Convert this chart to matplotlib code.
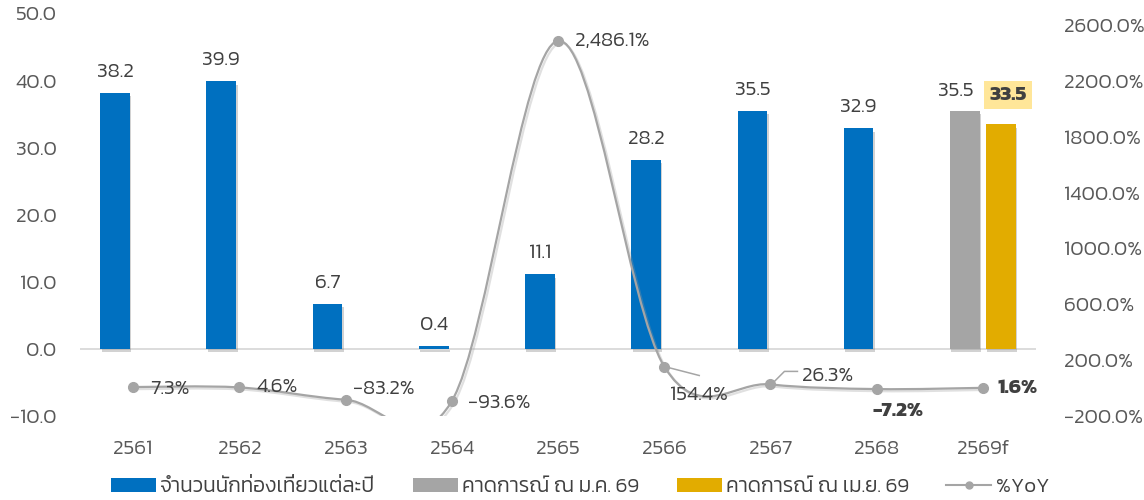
import matplotlib
matplotlib.use("Agg")
import matplotlib.pyplot as plt
import matplotlib.patheffects as pe
from matplotlib.path import Path
from matplotlib.patches import PathPatch, Patch
from matplotlib.lines import Line2D
import numpy as np

plt.rcParams["font.family"] = ["Kanit", "DejaVu Sans"]
plt.rcParams["font.weight"] = 300

# ---- data -------------------------------------------------------------
years = ["2561", "2562", "2563", "2564", "2565", "2566", "2567", "2568", "2569f"]
tourists = [38.2, 39.9, 6.7, 0.4, 11.1, 28.2, 35.5, 32.9]          # actual, million
forecast_jan = 35.5                                                  # forecast as of Jan 69
forecast_apr = 33.5                                                  # forecast as of Apr 69
yoy = [7.3, 4.6, -83.2, -93.6, 2486.1, 154.4, 26.3, -7.2, 1.6]      # %YoY

left_ticks = [-10, 0, 10, 20, 30, 40, 50]
right_ticks = [-200, 200, 600, 1000, 1400, 1800, 2200, 2600]

legend_labels = ["จำนวนนักท่องเที่ยวแต่ละปี", "คาดการณ์ ณ ม.ค. 69",
                 "คาดการณ์ ณ เม.ย. 69", "%YoY"]

# ---- style ------------------------------------------------------------
BLUE = "#0070C0"
GRAY = "#A5A5A5"
GOLD = "#E2AC00"
TXT = "#404040"
TICK = "#595959"
FS = 15

W, H = 1144, 500
fig = plt.figure(figsize=(W / 100, H / 100), dpi=100)
ax = fig.add_axes([80 / W, 1 - 416 / H, 956 / W, 402.5 / H])
ax2 = ax.twinx()

ax.set_xlim(-0.5, len(years) - 0.5)
ax.set_ylim(-10, 50)
ax2.set_ylim(-200, 2682)

for a in (ax, ax2):
    for s in a.spines.values():
        s.set_visible(False)
    a.tick_params(length=0)

ax.set_yticks(left_ticks, [f"{v:.1f}".replace("-", "\u2212") for v in left_ticks])
ax2.set_yticks(right_ticks, [f"{v:.1f}%".replace("-", "\u2212") for v in right_ticks])
ax.set_xticks(range(len(years)), years)
ax.tick_params(axis="y", labelsize=FS, labelcolor=TICK, pad=17)
ax2.tick_params(axis="y", labelsize=FS, labelcolor=TICK, pad=20)
ax.tick_params(axis="x", labelsize=FS, labelcolor=TICK, pad=17)

ax.axhline(0, color="#D9D9D9", lw=1.3, zorder=1)

# ---- bars -------------------------------------------------------------
bw = 0.28
off = 0.17
shadow = [pe.SimplePatchShadow(offset=(1, -2.5), shadow_rgbFace="#7f7f7f", alpha=0.35), pe.Normal()]

xa = np.arange(len(tourists))
bars = ax.bar(xa - off, tourists, width=bw, color=BLUE, zorder=2)
for b in bars:
    b.set_path_effects(shadow)
gbar = ax.bar([len(years) - 1 - off], [forecast_jan], width=bw, color=GRAY, zorder=2)
ybar = ax.bar([len(years) - 1 + off], [forecast_apr], width=bw, color=GOLD, zorder=2)
for b in list(gbar) + list(ybar):
    b.set_path_effects(shadow)

for x, v in zip(xa - off, tourists):
    ax.annotate(f"{v:.1f}", (x, v), xytext=(0, 21), textcoords="offset pixels",
                ha="center", va="center", fontsize=FS, color=TXT)
ax.annotate(f"{forecast_jan:.1f}", (len(years) - 1 - off, forecast_jan), xytext=(-9, 20),
            textcoords="offset pixels", ha="center", va="center", fontsize=FS, color=TXT)
ax.annotate(f"{forecast_apr:.1f}", (len(years) - 1 + off, forecast_apr), xytext=(7, 29),
            textcoords="offset pixels", ha="center", va="center", fontsize=FS,
            color=TXT, fontweight="bold",
            bbox=dict(boxstyle="square,pad=0.25", fc="#FFE699", ec="none"))

# ---- smoothed %YoY line (cubic Bezier through the points) ---------------
xs = np.arange(len(yoy), dtype=float)
ys = np.array(yoy, dtype=float)
pts = np.column_stack([xs, ys])
verts = [tuple(pts[0])]
codes = [Path.MOVETO]
n = len(pts)
for i in range(n - 1):
    p0 = pts[i - 1] if i > 0 else pts[i]
    p1 = pts[i]
    p2 = pts[i + 1]
    p3 = pts[i + 2] if i + 2 < n else pts[i + 1]
    c1 = p1 + (p2 - p0) / 6.0
    c2 = p2 - (p3 - p1) / 6.0
    verts += [tuple(c1), tuple(c2), tuple(p2)]
    codes += [Path.CURVE4] * 3
curve = PathPatch(Path(verts, codes), fill=False, ec=GRAY, lw=1.6, zorder=3)
curve.set_path_effects([pe.SimpleLineShadow(offset=(1.5, -1.5), shadow_color="#9a9a9a", alpha=0.3),
                        pe.Normal()])
ax2.add_patch(curve)
ax2.plot(xs, ys, "o", ms=7, color=GRAY, zorder=4)

# labels for %YoY: (dx px, dy px, ha, bold)
yoy_pos = [
    (17, -2, "left", False),
    (17, 0, "left", False),
    (7, 11, "left", False),
    (16, -2, "left", False),
    (17, 0, "left", False),
    (35, -28, "center", False),
    (32, 8, "left", False),
    (21, -22, "center", True),
    (15, 0, "left", True),
]


def fmt_pct(v):
    s = f"{v:,.1f}%"
    return s.replace("-", "\u2212")


for x, v, (dx, dy, ha, bold) in zip(xs, ys, yoy_pos):
    ax2.annotate(fmt_pct(v), (x, v), xytext=(dx, dy), textcoords="offset pixels",
                 ha=ha, va="center", fontsize=FS, color=TXT,
                 fontweight="bold" if bold else 300, zorder=5)

# leader lines (drawn in pixel offsets from their points)
def leader(i, segs):
    px, py = ax2.transData.transform((xs[i], ys[i]))
    disp = np.array([[px + dx, py + dy] for dx, dy in segs])
    data = ax2.transData.inverted().transform(disp)
    ax2.plot(data[:, 0], data[:, 1], color=GRAY, lw=1.1, zorder=3, clip_on=False)

leader(5, [(4, -1), (35, -9)])
leader(6, [(4, 3), (14, 13), (27, 13)])

# ---- legend -----------------------------------------------------------
handles = [Patch(fc=BLUE), Patch(fc=GRAY), Patch(fc=GOLD),
           Line2D([], [], color=GRAY, marker="o", ms=5, lw=1.5)]
fig.legend(handles, legend_labels, loc="center", bbox_to_anchor=(0.507, 0.026), ncol=4,
           frameon=False, fontsize=FS, labelcolor=TXT, handlelength=2.16,
           handletextpad=0.2, columnspacing=1.8, handleheight=0.67)

fig.savefig("out.png", dpi=100)
